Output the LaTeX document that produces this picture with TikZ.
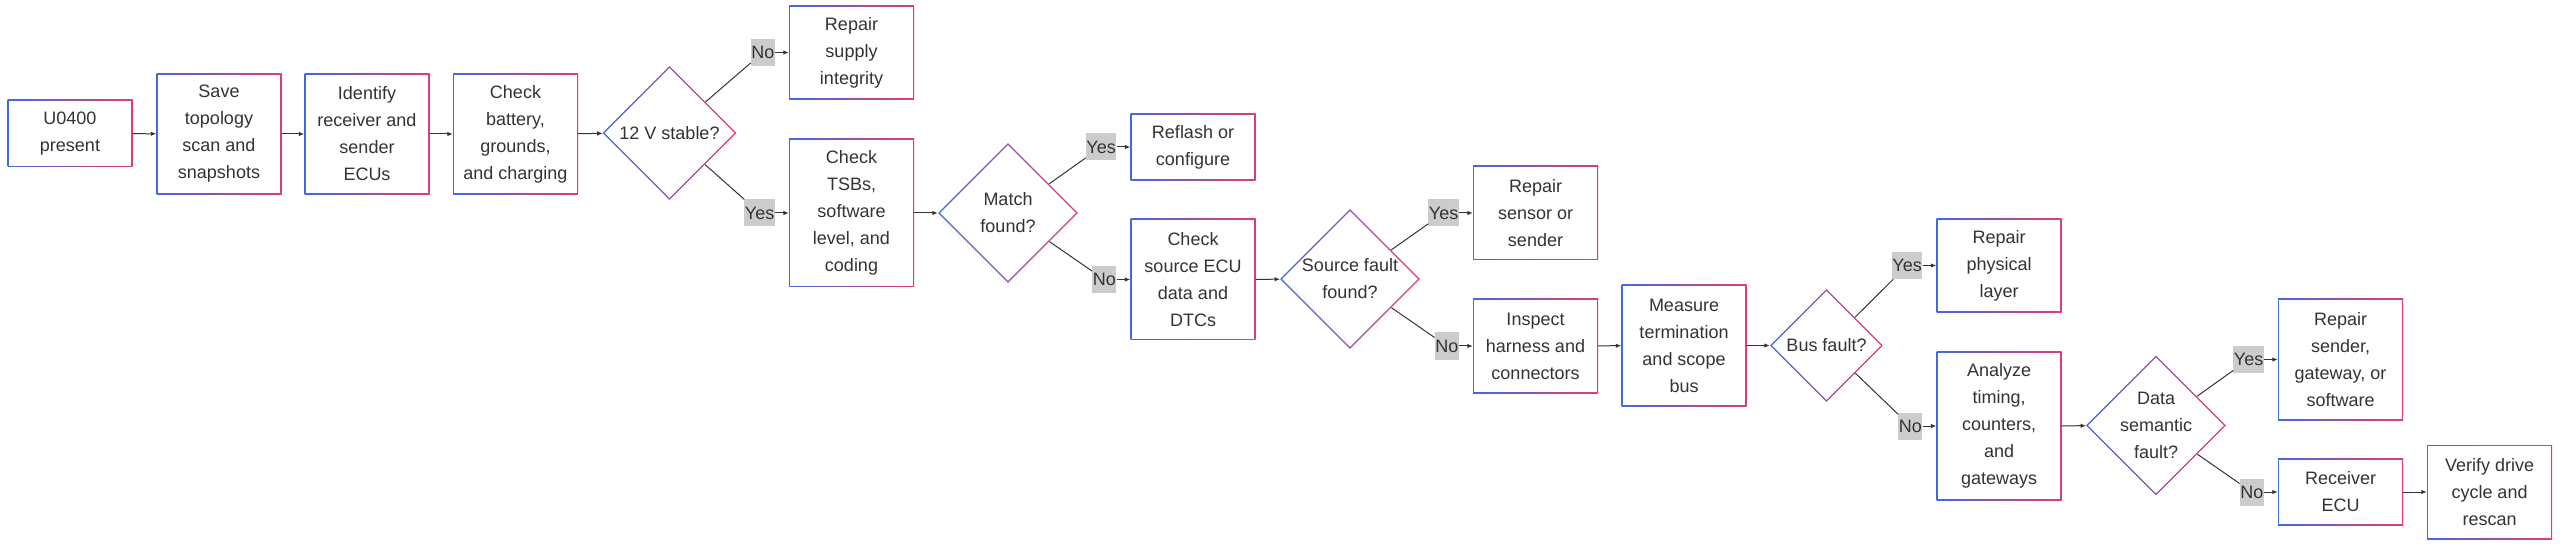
\documentclass[tikz,border=0pt]{standalone}
\usepackage{fontspec}
\setmainfont{Liberation Sans}
\usepackage{tikz}
\usetikzlibrary{shapes.geometric}
\usetikzlibrary{arrows.meta}
\usepackage{xcolor}
\definecolor{cblue}{RGB}{65,105,225}
\definecolor{cpink}{RGB}{226,60,110}
\definecolor{ctext}{RGB}{51,51,51}
\definecolor{clabel}{RGB}{204,204,204}
\tikzset{
	box/.style={rectangle, minimum width=125, minimum height=#1*27+13, inner sep=0,
		left color=cblue, right color=cpink, align=center, text=ctext,
		font=\fontsize{18}{27}\selectfont,
		path picture={\fill[white] ([shift={(1.4pt,1.4pt)}]path picture bounding box.south west)
			rectangle ([shift={(-1.4pt,-1.4pt)}]path picture bounding box.north east);}},
	decision/.style={diamond, aspect=1, minimum size=#1, inner sep=-8pt,
		left color=cblue, right color=cpink, align=center, text=ctext,
		font=\fontsize{18}{27}\selectfont,
		path picture={\fill[white] ([xshift=2pt]path picture bounding box.west)
			-- ([yshift=-2pt]path picture bounding box.north)
			-- ([xshift=-2pt]path picture bounding box.east)
			-- ([yshift=2pt]path picture bounding box.south) -- cycle;}},
	answer/.style={fill=clabel, text=ctext, inner xsep=0.5pt, inner ysep=0, minimum height=27,
		font=\fontsize{18}{20}\selectfont, anchor=east},
	link/.style={ctext, line width=1pt}
}

\begin{document}
\begin{tikzpicture}[x=1pt, y=-1pt, >={Latex[length=5.5pt,width=4.5pt]}]
	\useasboundingbox (0,0) rectangle (2560,545);
	\fill[white] (0,0) rectangle (2560,545);
	\node[box=2] (u0400) at (70,133.5) {U0400\\present};
	\node[box=4] (save) at (219,134) {Save\\topology\\scan and\\snapshots};
	\node[box=4] (ident) at (367,134) {Identify\\receiver and\\sender\\ECUs};
	\node[box=4] (chkbat) at (515.5,134) {Check\\battery,\\grounds,\\and charging};
	\node[decision=134] (volt) at (669.5,133) {12 V stable?};
	\node[box=3] (supply) at (851.5,52.5) {Repair\\supply\\integrity};
	\node[box=5] (tsb) at (851.5,213) {Check\\TSBs,\\software\\level, and\\coding};
	\node[decision=140] (match) at (1008,213) {Match\\found?};
	\node[box=2] (reflash) at (1193,147) {Reflash or\\configure};
	\node[box=4] (srcecu) at (1193,279.5) {Check\\source ECU\\data and\\DTCs};
	\node[decision=140] (srcfault) at (1350,279) {Source fault\\found?};
	\node[box=3] (sensor) at (1535.5,213) {Repair\\sensor or\\sender};
	\node[box=3] (harness) at (1535.5,346) {Inspect\\harness and\\connectors};
	\node[box=4] (measure) at (1684,345.5) {Measure\\termination\\and scope\\bus};
	\node[decision=113] (busfault) at (1826.5,345.5) {Bus fault?};
	\node[box=3] (physical) at (1999,265.5) {Repair\\physical\\layer};
	\node[box=5] (analyze) at (1999,426) {Analyze\\timing,\\counters,\\and\\gateways};
	\node[decision=140] (semantic) at (2156,425.5) {Data\\semantic\\fault?};
	\node[box=4] (gateway) at (2340.5,359.5) {Repair\\sender,\\gateway, or\\software};
	\node[box=2] (receiver) at (2340.5,492) {Receiver\\ECU};
	\node[box=3] (verify) at (2489.5,492) {Verify drive\\cycle and\\rescan};

	\node[answer] (no1) at (775,52.5) {No};
	\node[answer] (yes1) at (775,213) {Yes};
	\node[answer] (yes2) at (1116.5,147) {Yes};
	\node[answer] (no2) at (1116.5,279.5) {No};
	\node[answer] (yes3) at (1459,213) {Yes};
	\node[answer] (no3) at (1459,346) {No};
	\node[answer] (yes4) at (1922.5,265.5) {Yes};
	\node[answer] (no4) at (1922.5,426) {No};
	\node[answer] (yes5) at (2264,359.5) {Yes};
	\node[answer] (no5) at (2264,492) {No};

	\draw[link, ->] (u0400) -- (save);
	\draw[link, ->] (save) -- (ident);
	\draw[link, ->] (ident) -- (chkbat);
	\draw[link, ->] (chkbat) -- (volt);
	\draw[link, ->] (tsb) -- (match);
	\draw[link, ->] (srcecu) -- (srcfault);
	\draw[link, ->] (harness) -- (measure);
	\draw[link, ->] (measure) -- (busfault);
	\draw[link, ->] (analyze) -- (semantic);
	\draw[link, ->] (receiver) -- (verify);

	\draw[link] (volt) -- (no1);
	\draw[link, ->] (no1) -- (supply);
	\draw[link] (volt) -- (yes1);
	\draw[link, ->] (yes1) -- (tsb);
	\draw[link] (match) -- (yes2);
	\draw[link, ->] (yes2) -- (reflash);
	\draw[link] (match) -- (no2);
	\draw[link, ->] (no2) -- (srcecu);
	\draw[link] (srcfault) -- (yes3);
	\draw[link, ->] (yes3) -- (sensor);
	\draw[link] (srcfault) -- (no3);
	\draw[link, ->] (no3) -- (harness);
	\draw[link] (busfault) -- (yes4);
	\draw[link, ->] (yes4) -- (physical);
	\draw[link] (busfault) -- (no4);
	\draw[link, ->] (no4) -- (analyze);
	\draw[link] (semantic) -- (yes5);
	\draw[link, ->] (yes5) -- (gateway);
	\draw[link] (semantic) -- (no5);
	\draw[link, ->] (no5) -- (receiver);
\end{tikzpicture}
\end{document}
